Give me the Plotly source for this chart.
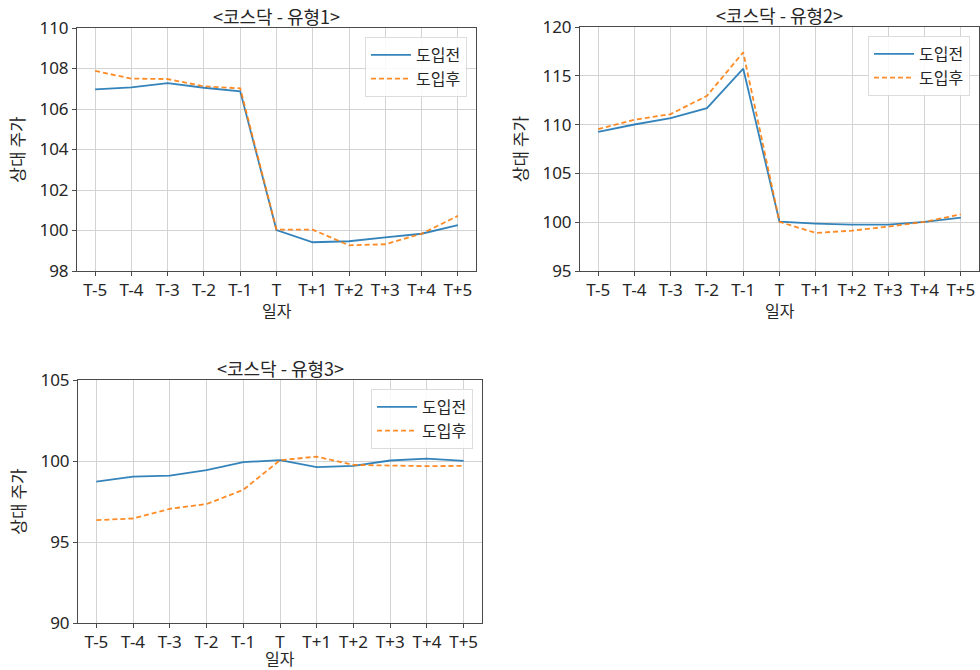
import plotly.graph_objects as go

# 일자 구간 (이벤트일 T 기준 ±5일)
days = ["T-5", "T-4", "T-3", "T-2", "T-1", "T", "T+1", "T+2", "T+3", "T+4", "T+5"]

# 유형1 상대 주가
type1_before = [106.97, 107.07, 107.28, 107.05, 106.87, 100.02, 99.42, 99.47, 99.66, 99.84, 100.27]
type1_after = [107.88, 107.50, 107.48, 107.12, 107.02, 100.04, 100.04, 99.27, 99.32, 99.84, 100.72]

# 유형2 상대 주가
type2_before = [109.26, 110.01, 110.66, 111.69, 115.73, 100.05, 99.86, 99.75, 99.75, 100.03, 100.47]
type2_after = [109.53, 110.49, 111.07, 112.95, 117.40, 100.03, 98.90, 99.14, 99.55, 100.03, 100.81]

# 유형3 상대 주가
type3_before = [98.73, 99.04, 99.10, 99.43, 99.93, 100.05, 99.62, 99.70, 100.03, 100.15, 100.01]
type3_after = [96.35, 96.45, 97.05, 97.34, 98.22, 100.05, 100.27, 99.76, 99.72, 99.68, 99.70]

titles = ["<코스닥 - 유형1>", "<코스닥 - 유형2>", "<코스닥 - 유형3>"]
series_names = ["도입전", "도입후"]
x_label = "일자"
y_label = "상대 주가"
y_ranges = [(98, 110), (95, 120), (90, 105)]
y_steps = [2, 5, 5]

W, H = 980, 670
FONT = "Noto Sans CJK KR, Noto Sans, sans-serif"
TICK_FONT = "Noto Sans, Noto Sans CJK KR, sans-serif"
TEXT = "#262626"
BLUE = "#1f77b4"
ORANGE = "#ff7f0e"

# 각 패널의 픽셀 영역 (left, right, top, bottom)
panels = [(77, 476, 28, 271), (580, 979, 27, 271), (78, 482, 380, 623)]
# x축 제목 세로 중심 (픽셀)
x_label_y = [310, 310, 658]

data = [
    (type1_before, type1_after),
    (type2_before, type2_after),
    (type3_before, type3_after),
]

fig = go.Figure()
annotations = []
layout = {}

for i, ((before, after), (l, r, t, b)) in enumerate(zip(data, panels)):
    n = i + 1
    xa = "x" if n == 1 else f"x{n}"
    ya = "y" if n == 1 else f"y{n}"
    lg = "legend" if n == 1 else f"legend{n}"

    fig.add_trace(go.Scatter(
        x=days, y=before, mode="lines", name=series_names[0],
        line=dict(color=BLUE, width=1.8), opacity=0.9,
        xaxis=xa, yaxis=ya, legend=lg,
    ))
    fig.add_trace(go.Scatter(
        x=days, y=after, mode="lines", name=series_names[1],
        line=dict(color=ORANGE, width=1.8, dash="5px,3px"), opacity=0.9,
        xaxis=xa, yaxis=ya, legend=lg,
    ))

    xd = [l / W, r / W]
    yd = [1 - b / H, 1 - t / H]
    axis_common = dict(
        showline=True, linecolor="#4a4a4a", linewidth=1, mirror=True,
        ticks="outside", ticklen=4, tickwidth=1, tickcolor="#4a4a4a",
        showgrid=True, gridcolor="#d3d3d3", gridwidth=1, zeroline=False,
        tickfont=dict(family=TICK_FONT, size=17, color=TEXT),
        automargin=False,
    )
    layout["xaxis" if n == 1 else f"xaxis{n}"] = dict(
        axis_common, domain=xd, anchor=ya, type="category",
        categoryorder="array", categoryarray=days, range=[-0.5, 10.5],
    )
    layout["yaxis" if n == 1 else f"yaxis{n}"] = dict(
        axis_common, domain=yd, anchor=xa,
        range=list(y_ranges[i]), dtick=y_steps[i], tick0=0,
        title=dict(text=y_label, font=dict(family=FONT, size=17, color=TEXT), standoff=10),
    )
    layout[lg] = dict(
        x=(r - 9) / W, y=1 - (t + 9) / H, xanchor="right", yanchor="top",
        xref="paper", yref="paper",
        bgcolor="rgba(255,255,255,0.85)", bordercolor="#dcdcdc", borderwidth=1,
        font=dict(family=FONT, size=16, color=TEXT),
        itemwidth=40, tracegroupgap=0,
    )
    # 패널 제목
    annotations.append(dict(
        text=titles[i], x=(l + r) / 2 / W, y=1 - (t - 12) / H,
        xref="paper", yref="paper", xanchor="center", yanchor="middle",
        showarrow=False, font=dict(family=FONT, size=18, color=TEXT),
    ))
    # x축 제목
    annotations.append(dict(
        text=x_label, x=(l + r) / 2 / W, y=1 - x_label_y[i] / H,
        xref="paper", yref="paper", xanchor="center", yanchor="middle",
        showarrow=False, font=dict(family=FONT, size=16, color=TEXT),
    ))

fig.update_layout(
    width=W, height=H,
    margin=dict(l=0, r=0, t=0, b=0, autoexpand=False),
    paper_bgcolor="white", plot_bgcolor="white",
    font=dict(family=FONT, color=TEXT),
    annotations=annotations,
    showlegend=True,
    **layout,
)

fig.write_html("out.html")
